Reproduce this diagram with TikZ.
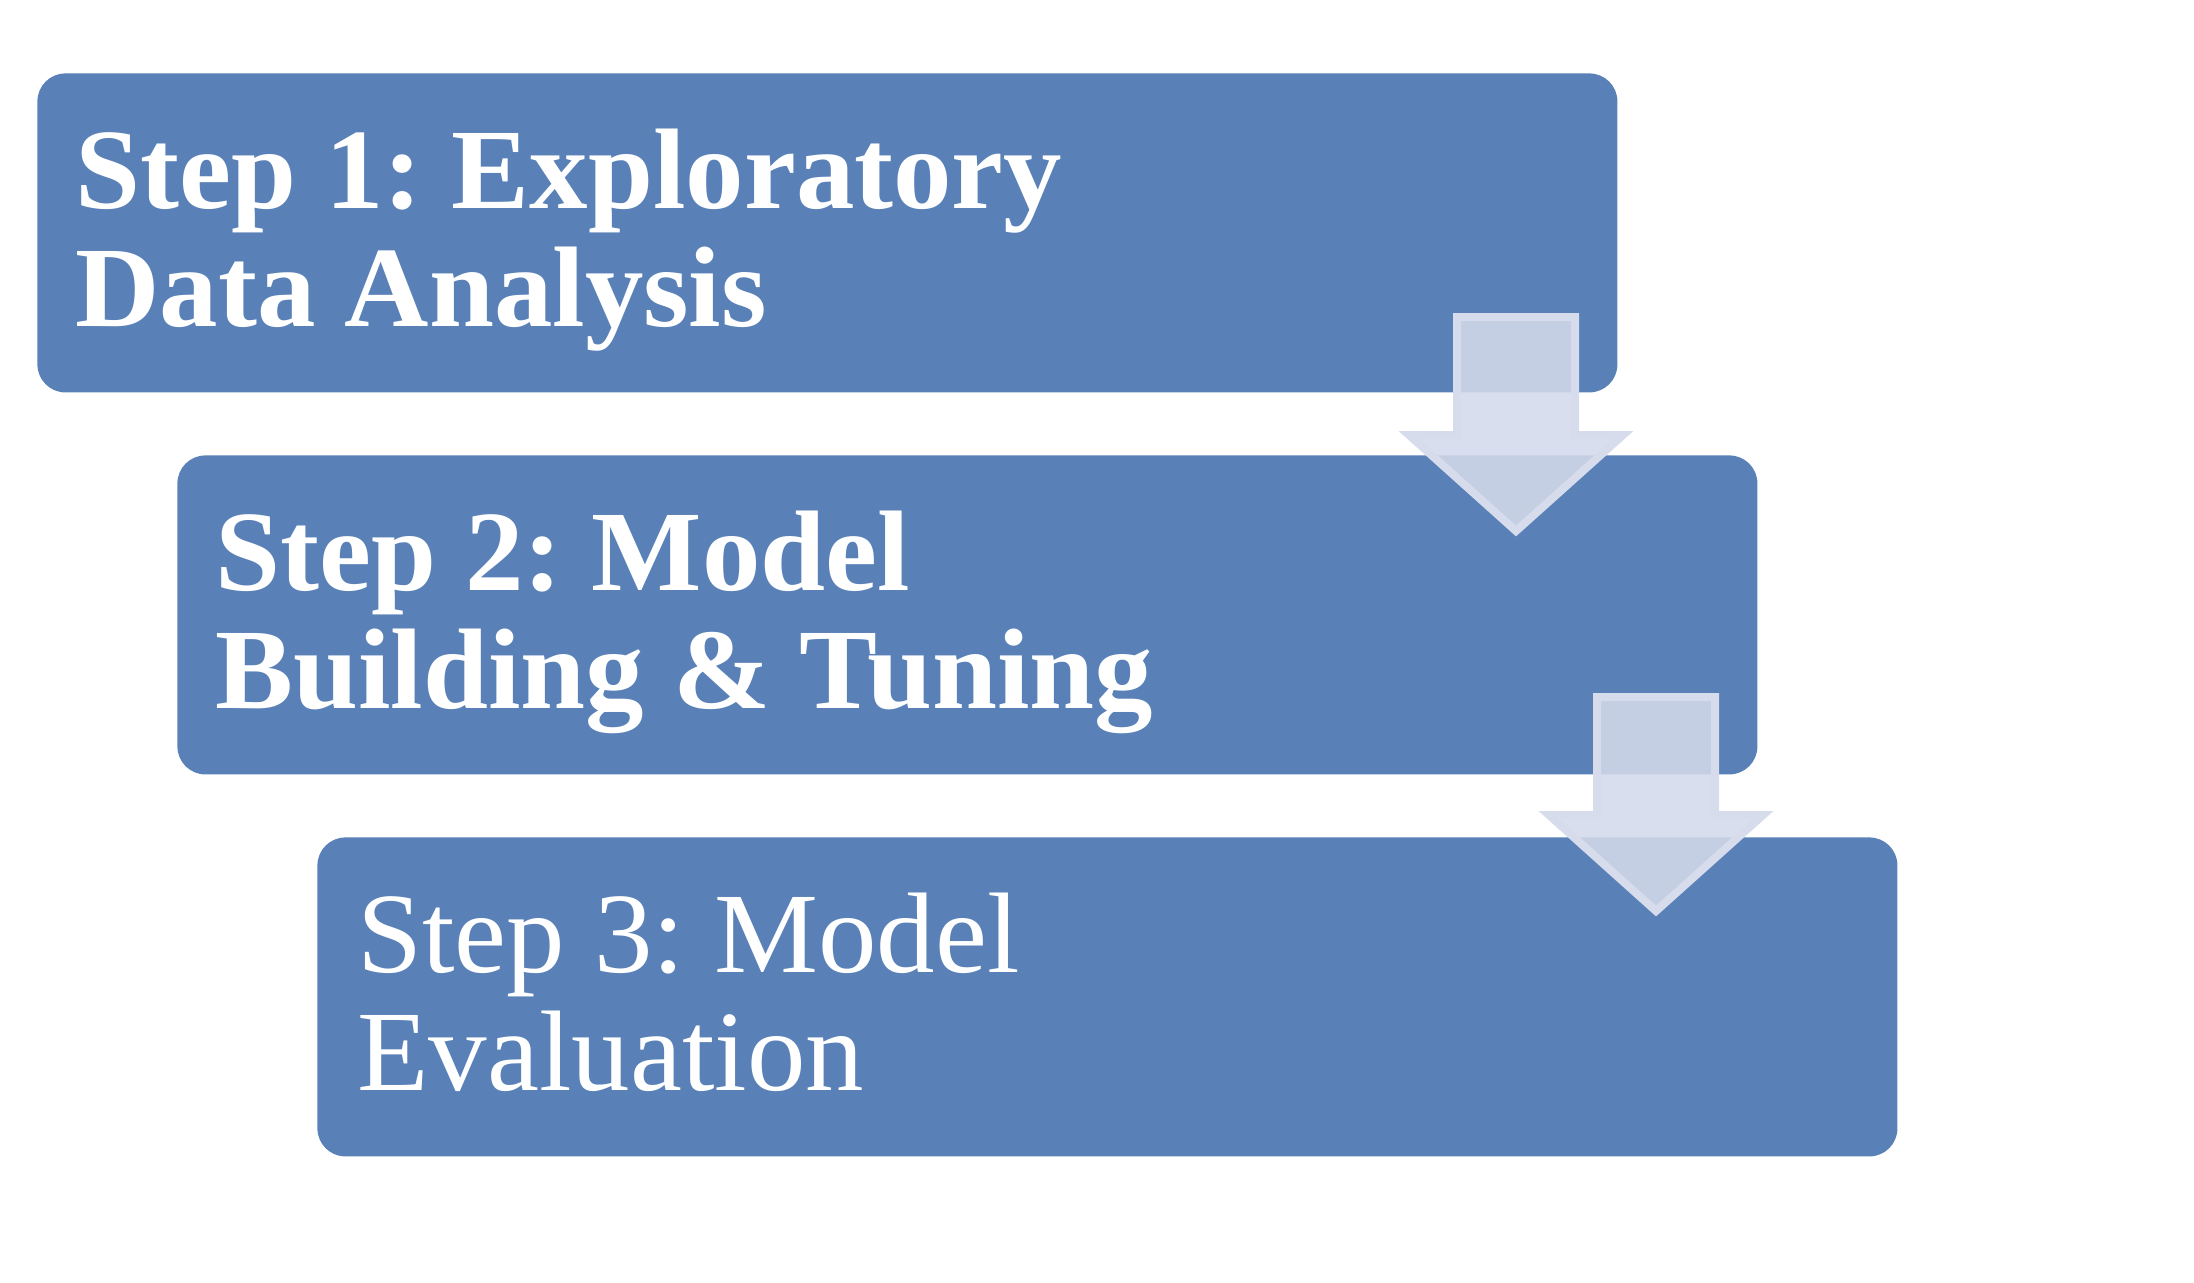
\documentclass[tikz,border=0pt]{standalone}
\usepackage{fontspec}
\setmainfont{Liberation Serif}[FakeStretch=1.02]
\frenchspacing
\definecolor{stepblue}{RGB}{89,129,184}
\definecolor{arrowfill}{RGB}{211,218,234}
\definecolor{arrowline}{RGB}{214,220,235}
\newcommand{\stepfont}{\fontsize{57.3}{59}\selectfont}
\begin{document}
\begin{tikzpicture}[x=0.5pt, y=-0.5pt,
    stepbox/.style={fill=stepblue, rounded corners=14pt, anchor=north west, inner sep=0pt,
        minimum width=790pt, minimum height=159.5pt},
    steplabel/.style={anchor=base west, inner sep=0pt, text=white, font=\stepfont},
    boldlabel/.style={steplabel, font=\stepfont\bfseries},
    flowarrow/.style={fill=arrowfill, fill opacity=0.88, draw=arrowline, line width=4pt, line join=miter}]
    \useasboundingbox (0,0) rectangle (2194,1282);

    % Step boxes (blue region)
    \node[stepbox] (s1) at (37,73) {};
    \node[stepbox] (s2) at (177,455) {};
    \node[stepbox] (s3) at (317,837) {};

    % Step texts
    \node[boldlabel] (s1top) at ([xshift=19pt, yshift=-67.5pt]s1.north west) {Step 1: Exploratory};
    \node[boldlabel] (s1bot) at ([xshift=19pt, yshift=-126.5pt]s1.north west) {Data Analysis};
    \node[boldlabel] (s2top) at ([xshift=19pt, yshift=-67.5pt]s2.north west) {Step 2: Model};
    \node[boldlabel] (s2bot) at ([xshift=19pt, yshift=-126.5pt]s2.north west) {Building \& Tuning};
    \node[steplabel] (s3top) at ([xshift=20pt, yshift=-67.5pt]s3.north west) {Step 3: Model};
    \node[steplabel] (s3bot) at ([xshift=20pt, yshift=-126.5pt]s3.north west) {Evaluation};

    % Down arrows between the steps
    \foreach \dx/\dy in {0/0, 140/380}
        \draw[flowarrow, shift={(\dx,\dy)}] (1457,317) -- (1575,317) -- (1575,435) -- (1623,435)
            -- (1516,531) -- (1409,435) -- (1457,435) -- cycle;
\end{tikzpicture}
\end{document}
